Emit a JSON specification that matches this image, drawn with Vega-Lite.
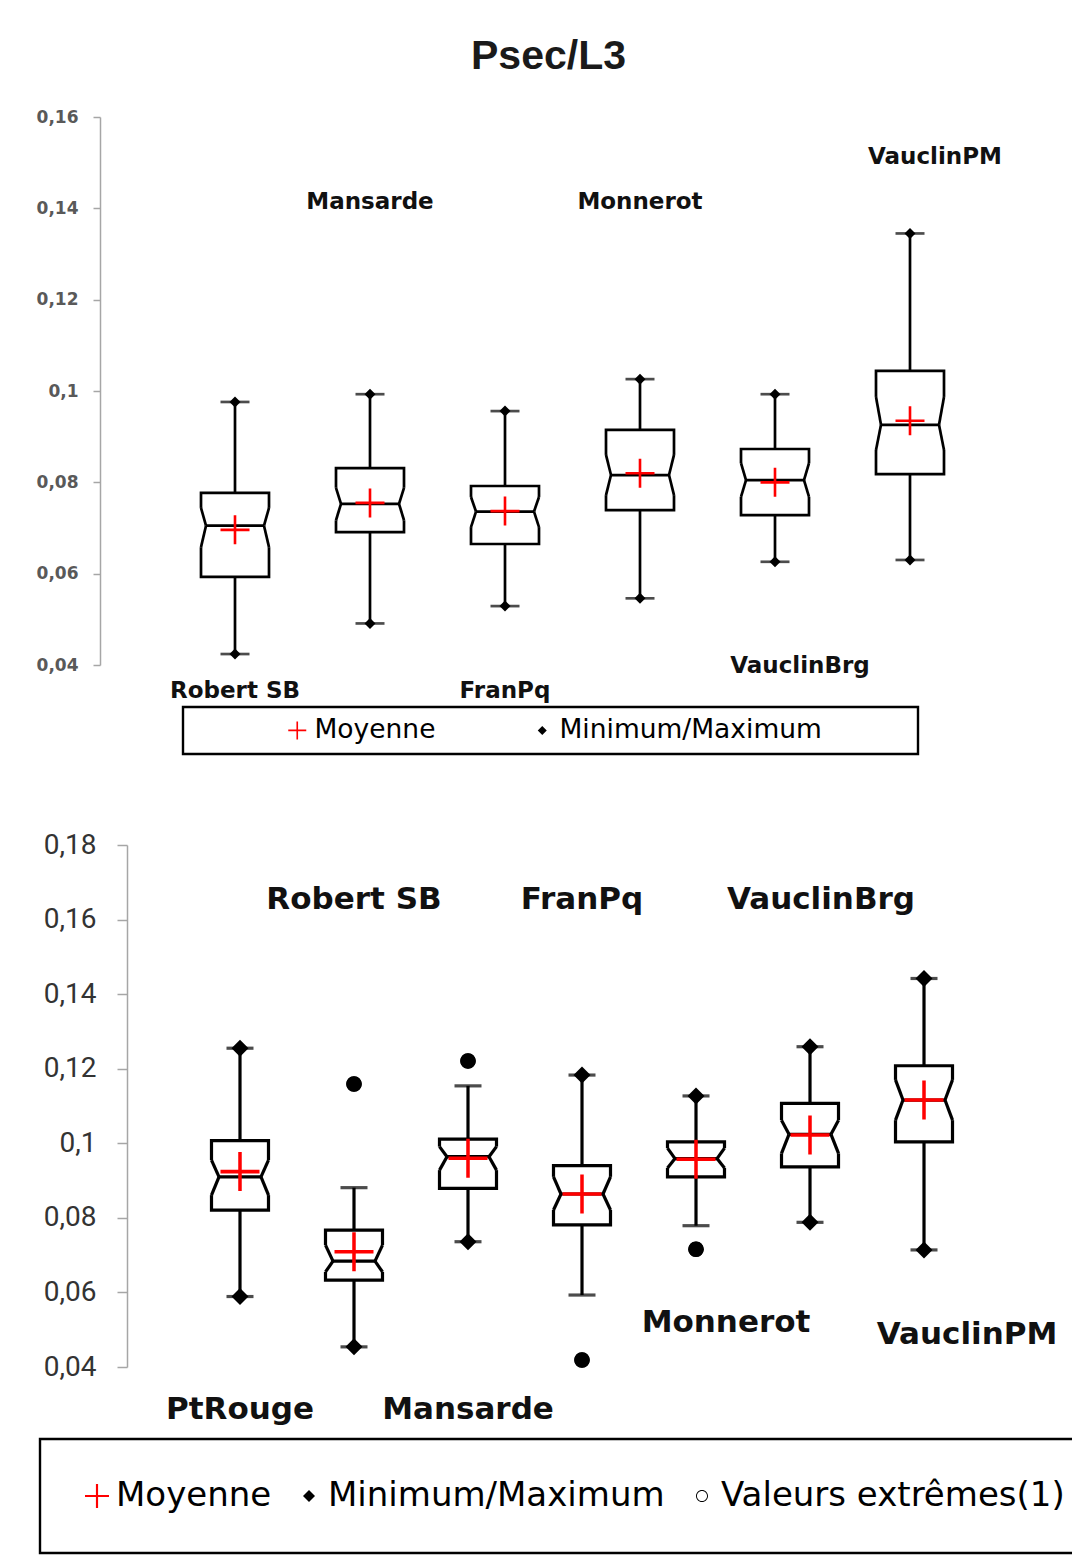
{
  "$schema": "https://vega.github.io/schema/vega-lite/v6.json",
  "background": "#ffffff",
  "padding": {"left": 36, "top": 36, "right": 5, "bottom": 5},
  "config": {"view": {"stroke": null}, "legend": {"strokeWidth": 2.4}},
  "spacing": 180,
  "bounds": "flush",
  "resolve": {"scale": {"x": "independent", "y": "independent", "color": "independent", "shape": "independent"}},
  "datasets": {
    "top_boxes": [
      {"group": "Robert SB", "lo": 0.0424, "q1": 0.0593, "nlo": 0.0658, "med": 0.0705, "nhi": 0.0744, "q3": 0.0777, "hi": 0.0976},
      {"group": "Mansarde", "lo": 0.0491, "q1": 0.0691, "nlo": 0.0717, "med": 0.0753, "nhi": 0.0788, "q3": 0.0831, "hi": 0.0993},
      {"group": "FranPq", "lo": 0.0529, "q1": 0.0665, "nlo": 0.0702, "med": 0.0736, "nhi": 0.0768, "q3": 0.0792, "hi": 0.0956},
      {"group": "Monnerot", "lo": 0.0546, "q1": 0.0739, "nlo": 0.0772, "med": 0.0816, "nhi": 0.086, "q3": 0.0915, "hi": 0.1026},
      {"group": "VauclinBrg", "lo": 0.0626, "q1": 0.0728, "nlo": 0.0768, "med": 0.0805, "nhi": 0.0842, "q3": 0.0873, "hi": 0.0993},
      {"group": "VauclinPM", "lo": 0.063, "q1": 0.0818, "nlo": 0.0871, "med": 0.0926, "nhi": 0.0987, "q3": 0.1044, "hi": 0.1345}
    ],
    "top_markers": [
      {"group": "Robert SB", "kind": "Moyenne", "value": 0.0696},
      {"group": "Mansarde", "kind": "Moyenne", "value": 0.0755},
      {"group": "FranPq", "kind": "Moyenne", "value": 0.0737},
      {"group": "Monnerot", "kind": "Moyenne", "value": 0.082},
      {"group": "VauclinBrg", "kind": "Moyenne", "value": 0.08},
      {"group": "VauclinPM", "kind": "Moyenne", "value": 0.0935},
      {"group": "Robert SB", "kind": "Minimum/Maximum", "value": 0.0424},
      {"group": "Robert SB", "kind": "Minimum/Maximum", "value": 0.0976},
      {"group": "Mansarde", "kind": "Minimum/Maximum", "value": 0.0491},
      {"group": "Mansarde", "kind": "Minimum/Maximum", "value": 0.0993},
      {"group": "FranPq", "kind": "Minimum/Maximum", "value": 0.0529},
      {"group": "FranPq", "kind": "Minimum/Maximum", "value": 0.0956},
      {"group": "Monnerot", "kind": "Minimum/Maximum", "value": 0.0546},
      {"group": "Monnerot", "kind": "Minimum/Maximum", "value": 0.1026},
      {"group": "VauclinBrg", "kind": "Minimum/Maximum", "value": 0.0626},
      {"group": "VauclinBrg", "kind": "Minimum/Maximum", "value": 0.0993},
      {"group": "VauclinPM", "kind": "Minimum/Maximum", "value": 0.063},
      {"group": "VauclinPM", "kind": "Minimum/Maximum", "value": 0.1345}
    ],
    "top_labels": [
      {"group": "Robert SB", "pos": 0.0343},
      {"group": "Mansarde", "pos": 0.1414},
      {"group": "FranPq", "pos": 0.0343},
      {"group": "Monnerot", "pos": 0.1414},
      {"group": "VauclinBrg", "pos": 0.0398},
      {"group": "VauclinPM", "pos": 0.1512}
    ],
    "bot_boxes": [
      {"group": "PtRouge", "lo": 0.0589, "q1": 0.0821, "nlo": 0.0861, "med": 0.091, "nhi": 0.0955, "q3": 0.1007, "hi": 0.1255},
      {"group": "Robert SB", "lo": 0.0454, "q1": 0.0633, "nlo": 0.0655, "med": 0.0684, "nhi": 0.0727, "q3": 0.0767, "hi": 0.0881},
      {"group": "Mansarde", "lo": 0.0736, "q1": 0.0879, "nlo": 0.0928, "med": 0.0964, "nhi": 0.0991, "q3": 0.1011, "hi": 0.1154},
      {"group": "FranPq", "lo": 0.0593, "q1": 0.0781, "nlo": 0.0821, "med": 0.0864, "nhi": 0.091, "q3": 0.094, "hi": 0.1183},
      {"group": "Monnerot", "lo": 0.0779, "q1": 0.091, "nlo": 0.0934, "med": 0.0959, "nhi": 0.0987, "q3": 0.1004, "hi": 0.1127},
      {"group": "VauclinBrg", "lo": 0.0788, "q1": 0.0937, "nlo": 0.0973, "med": 0.1024, "nhi": 0.1062, "q3": 0.1107, "hi": 0.1259},
      {"group": "VauclinPM", "lo": 0.0714, "q1": 0.1004, "nlo": 0.1062, "med": 0.1116, "nhi": 0.117, "q3": 0.1208, "hi": 0.1442}
    ],
    "bot_markers": [
      {"group": "PtRouge", "kind": "Moyenne", "value": 0.0924},
      {"group": "Robert SB", "kind": "Moyenne", "value": 0.0709},
      {"group": "Mansarde", "kind": "Moyenne", "value": 0.096},
      {"group": "FranPq", "kind": "Moyenne", "value": 0.0864},
      {"group": "Monnerot", "kind": "Moyenne", "value": 0.0957},
      {"group": "VauclinBrg", "kind": "Moyenne", "value": 0.1022},
      {"group": "VauclinPM", "kind": "Moyenne", "value": 0.1116},
      {"group": "PtRouge", "kind": "Minimum/Maximum", "value": 0.0589},
      {"group": "PtRouge", "kind": "Minimum/Maximum", "value": 0.1255},
      {"group": "Robert SB", "kind": "Minimum/Maximum", "value": 0.0454},
      {"group": "Mansarde", "kind": "Minimum/Maximum", "value": 0.0736},
      {"group": "FranPq", "kind": "Minimum/Maximum", "value": 0.1183},
      {"group": "Monnerot", "kind": "Minimum/Maximum", "value": 0.1127},
      {"group": "VauclinBrg", "kind": "Minimum/Maximum", "value": 0.0788},
      {"group": "VauclinBrg", "kind": "Minimum/Maximum", "value": 0.1259},
      {"group": "VauclinPM", "kind": "Minimum/Maximum", "value": 0.0714},
      {"group": "VauclinPM", "kind": "Minimum/Maximum", "value": 0.1442},
      {"group": "Robert SB", "kind": "Valeurs extrêmes(1)", "value": 0.1159},
      {"group": "Mansarde", "kind": "Valeurs extrêmes(1)", "value": 0.1221},
      {"group": "FranPq", "kind": "Valeurs extrêmes(1)", "value": 0.0419},
      {"group": "Monnerot", "kind": "Valeurs extrêmes(1)", "value": 0.0716}
    ],
    "bot_labels": [
      {"group": "PtRouge", "pos": 0.0286},
      {"group": "Robert SB", "pos": 0.1652},
      {"group": "Mansarde", "pos": 0.0286},
      {"group": "FranPq", "pos": 0.1652},
      {"group": "Monnerot", "pos": 0.0519},
      {"group": "VauclinBrg", "pos": 0.1652},
      {"group": "VauclinPM", "pos": 0.0486}
    ]
  },
  "vconcat": [
    {
      "title": {"text": "Psec/L3", "font": "Liberation Sans", "fontSize": 41, "fontWeight": "bold", "color": "#1a1a1a", "anchor": "middle", "frame": "group", "dx": -24, "offset": 30},
      "width": 945,
      "height": 548,
      "encoding": {
        "x": {"field": "group", "type": "nominal", "scale": {"type": "point", "padding": 1, "domain": ["Robert SB", "Mansarde", "FranPq", "Monnerot", "VauclinBrg", "VauclinPM"]}, "axis": null}
      },
      "layer": [
        {"data": {"name": "top_boxes"}, "mark": {"type": "rule", "color": "#000000", "strokeWidth": 2.7},
         "encoding": {"y": {"field": "lo", "type": "quantitative", "title": null, "scale": {"domain": [0.04, 0.16], "nice": false, "zero": false},
           "axis": {"values": [0.04, 0.06, 0.08, 0.1, 0.12, 0.14, 0.16], "labelExpr": "replace(format(datum.value, '~g'), '.', ',')", "labelFont": "DejaVu Sans", "labelFontSize": 17, "labelFontWeight": "bold", "labelColor": "#595959", "domainColor": "#a6a6a6", "domainWidth": 1.5, "tickColor": "#a6a6a6", "tickWidth": 1.5, "tickSize": 7, "labelPadding": 15, "grid": false, "title": null,
             "encode": {"ticks": {"update": {"x": {"value": 7}}}}}},
           "y2": {"field": "hi"}}},
        {"data": {"name": "top_boxes"}, "mark": {"type": "tick", "color": "#000000", "size": 29, "thickness": 2.7},
         "encoding": {"y": {"field": "lo", "type": "quantitative", "title": null, "scale": {"domain": [0.04, 0.16], "nice": false, "zero": false}}}},
        {"data": {"name": "top_boxes"}, "mark": {"type": "tick", "color": "#000000", "size": 29, "thickness": 2.7},
         "encoding": {"y": {"field": "hi", "type": "quantitative", "title": null, "scale": {"domain": [0.04, 0.16], "nice": false, "zero": false}}}},
        {"data": {"name": "top_boxes"}, "mark": {"type": "bar", "width": 68, "fill": "#ffffff", "stroke": "#000000", "strokeWidth": 2.7},
         "encoding": {"y": {"field": "q1", "type": "quantitative", "title": null, "scale": {"domain": [0.04, 0.16], "nice": false, "zero": false}}, "y2": {"field": "q3"}}},
        {"data": {"name": "top_boxes"}, "mark": {"type": "rule", "color": "#ffffff", "strokeWidth": 12, "xOffset": -30},
         "encoding": {"y": {"field": "nlo", "type": "quantitative", "title": null, "scale": {"domain": [0.04, 0.16], "nice": false, "zero": false}}, "y2": {"field": "nhi"}}},
        {"data": {"name": "top_boxes"}, "mark": {"type": "rule", "color": "#ffffff", "strokeWidth": 12, "xOffset": 30},
         "encoding": {"y": {"field": "nlo", "type": "quantitative", "title": null, "scale": {"domain": [0.04, 0.16], "nice": false, "zero": false}}, "y2": {"field": "nhi"}}},
        {"data": {"name": "top_boxes"}, "mark": {"type": "rule", "color": "#000000", "strokeWidth": 2.7, "xOffset": -34, "x2Offset": -29},
         "encoding": {"x2": {"field": "group"}, "y": {"field": "nhi", "type": "quantitative", "title": null, "scale": {"domain": [0.04, 0.16], "nice": false, "zero": false}}, "y2": {"field": "med"}}},
        {"data": {"name": "top_boxes"}, "mark": {"type": "rule", "color": "#000000", "strokeWidth": 2.7, "xOffset": -34, "x2Offset": -29},
         "encoding": {"x2": {"field": "group"}, "y": {"field": "nlo", "type": "quantitative", "title": null, "scale": {"domain": [0.04, 0.16], "nice": false, "zero": false}}, "y2": {"field": "med"}}},
        {"data": {"name": "top_boxes"}, "mark": {"type": "rule", "color": "#000000", "strokeWidth": 2.7, "xOffset": 34, "x2Offset": 29},
         "encoding": {"x2": {"field": "group"}, "y": {"field": "nhi", "type": "quantitative", "title": null, "scale": {"domain": [0.04, 0.16], "nice": false, "zero": false}}, "y2": {"field": "med"}}},
        {"data": {"name": "top_boxes"}, "mark": {"type": "rule", "color": "#000000", "strokeWidth": 2.7, "xOffset": 34, "x2Offset": 29},
         "encoding": {"x2": {"field": "group"}, "y": {"field": "nlo", "type": "quantitative", "title": null, "scale": {"domain": [0.04, 0.16], "nice": false, "zero": false}}, "y2": {"field": "med"}}},
        {"data": {"name": "top_boxes"}, "mark": {"type": "rule", "color": "#000000", "strokeWidth": 2.7, "xOffset": -29, "x2Offset": 29},
         "encoding": {"x2": {"field": "group"}, "y": {"field": "med", "type": "quantitative", "title": null, "scale": {"domain": [0.04, 0.16], "nice": false, "zero": false}}, "y2": {"field": "med"}}},
        {"data": {"name": "top_markers"}, "transform": [{"filter": "datum.kind === 'Moyenne'"}],
         "mark": {"type": "point", "filled": true, "opacity": 1, "size": 841, "strokeWidth": 0},
         "encoding": {
           "y": {"field": "value", "type": "quantitative", "title": null, "scale": {"domain": [0.04, 0.16], "nice": false, "zero": false}},
           "color": {"field": "kind", "type": "nominal", "scale": {"domain": ["Moyenne", "Minimum/Maximum"], "range": ["#ff0000", "#000000"]},
             "legend": {"title": " ", "titleOrient": "right", "titlePadding": 86, "titleFontSize": 2, "orient": "none", "legendX": 83, "legendY": 590, "direction": "horizontal", "padding": 10, "strokeColor": "#000000", "labelFont": "DejaVu Sans", "labelFontSize": 26.5, "labelColor": "#000000", "labelLimit": 1000, "symbolSize": 324, "symbolStrokeWidth": 0, "symbolOffset": 91, "labelOffset": 4, "columnPadding": 2}},
           "shape": {"field": "kind", "type": "nominal", "scale": {"domain": ["Moyenne", "Minimum/Maximum"], "range": ["M-1,-0.09H-0.09V-1H0.09V-0.09H1V0.09H0.09V1H-0.09V0.09H-1Z", "M-0.5,0L0,-0.5L0.5,0L0,0.5Z"]},
             "legend": {"title": " ", "titleOrient": "right", "titlePadding": 86, "titleFontSize": 2, "orient": "none", "legendX": 83, "legendY": 590, "direction": "horizontal", "padding": 10, "strokeColor": "#000000", "labelFont": "DejaVu Sans", "labelFontSize": 26.5, "labelColor": "#000000", "labelLimit": 1000, "symbolSize": 324, "symbolStrokeWidth": 0, "symbolOffset": 91, "labelOffset": 4, "columnPadding": 2}}
         }},
        {"data": {"name": "top_markers"}, "transform": [{"filter": "datum.kind === 'Minimum/Maximum'"}],
         "mark": {"type": "point", "filled": true, "opacity": 1, "size": 484, "strokeWidth": 0},
         "encoding": {
           "y": {"field": "value", "type": "quantitative", "title": null, "scale": {"domain": [0.04, 0.16], "nice": false, "zero": false}},
           "color": {"field": "kind", "type": "nominal"},
           "shape": {"field": "kind", "type": "nominal"}
         }},
        {"data": {"name": "top_labels"}, "transform": [{"filter": "datum.group !== 'VauclinBrg' && datum.group !== 'VauclinPM'"}],
         "mark": {"type": "text", "font": "DejaVu Sans", "fontWeight": "bold", "fontSize": 23, "color": "#111111", "align": "center", "baseline": "middle"},
         "encoding": {"y": {"field": "pos", "type": "quantitative", "title": null, "scale": {"domain": [0.04, 0.16], "nice": false, "zero": false}}, "text": {"field": "group"}}},
        {"data": {"name": "top_labels"}, "transform": [{"filter": "datum.group === 'VauclinBrg' || datum.group === 'VauclinPM'"}],
         "mark": {"type": "text", "font": "DejaVu Sans", "fontWeight": "bold", "fontSize": 23, "color": "#111111", "align": "center", "baseline": "middle", "dx": 25},
         "encoding": {"y": {"field": "pos", "type": "quantitative", "title": null, "scale": {"domain": [0.04, 0.16], "nice": false, "zero": false}}, "text": {"field": "group"}}}
      ]
    },
    {
      "width": 964,
      "height": 522,
      "encoding": {
        "x": {"field": "group", "type": "nominal", "scale": {"type": "band", "paddingInner": 0, "paddingOuter": 0.728, "domain": ["PtRouge", "Robert SB", "Mansarde", "FranPq", "Monnerot", "VauclinBrg", "VauclinPM"]}, "axis": null}
      },
      "layer": [
        {"data": {"name": "bot_boxes"}, "mark": {"type": "rule", "color": "#000000", "strokeWidth": 3.2},
         "encoding": {"y": {"field": "lo", "type": "quantitative", "title": null, "scale": {"domain": [0.04, 0.18], "nice": false, "zero": false},
           "axis": {"values": [0.04, 0.06, 0.08, 0.1, 0.12, 0.14, 0.16, 0.18], "labelExpr": "replace(format(datum.value, '~g'), '.', ',')", "labelFont": "Roboto", "labelFontSize": 28, "labelColor": "#333333", "domainColor": "#a6a6a6", "domainWidth": 1.5, "tickColor": "#a6a6a6", "tickWidth": 1.5, "tickSize": 10, "labelPadding": 21, "offset": -27, "grid": false, "title": null,
             "encode": {"ticks": {"update": {"x": {"value": 11}}}}}},
           "y2": {"field": "hi"}}},
        {"data": {"name": "bot_boxes"}, "mark": {"type": "tick", "color": "#000000", "size": 27, "thickness": 3.2},
         "encoding": {"y": {"field": "lo", "type": "quantitative", "title": null, "scale": {"domain": [0.04, 0.18], "nice": false, "zero": false}}}},
        {"data": {"name": "bot_boxes"}, "mark": {"type": "tick", "color": "#000000", "size": 27, "thickness": 3.2},
         "encoding": {"y": {"field": "hi", "type": "quantitative", "title": null, "scale": {"domain": [0.04, 0.18], "nice": false, "zero": false}}}},
        {"data": {"name": "bot_boxes"}, "mark": {"type": "bar", "width": 57, "fill": "#ffffff", "stroke": "#000000", "strokeWidth": 3.2},
         "encoding": {"y": {"field": "q1", "type": "quantitative", "title": null, "scale": {"domain": [0.04, 0.18], "nice": false, "zero": false}}, "y2": {"field": "q3"}}},
        {"data": {"name": "bot_boxes"}, "mark": {"type": "rule", "color": "#ffffff", "strokeWidth": 12, "xOffset": -25},
         "encoding": {"y": {"field": "nlo", "type": "quantitative", "title": null, "scale": {"domain": [0.04, 0.18], "nice": false, "zero": false}}, "y2": {"field": "nhi"}}},
        {"data": {"name": "bot_boxes"}, "mark": {"type": "rule", "color": "#ffffff", "strokeWidth": 12, "xOffset": 25},
         "encoding": {"y": {"field": "nlo", "type": "quantitative", "title": null, "scale": {"domain": [0.04, 0.18], "nice": false, "zero": false}}, "y2": {"field": "nhi"}}},
        {"data": {"name": "bot_boxes"}, "mark": {"type": "rule", "color": "#000000", "strokeWidth": 3.2, "xOffset": -28.5, "x2Offset": -21},
         "encoding": {"x2": {"field": "group"}, "y": {"field": "nhi", "type": "quantitative", "title": null, "scale": {"domain": [0.04, 0.18], "nice": false, "zero": false}}, "y2": {"field": "med"}}},
        {"data": {"name": "bot_boxes"}, "mark": {"type": "rule", "color": "#000000", "strokeWidth": 3.2, "xOffset": -28.5, "x2Offset": -21},
         "encoding": {"x2": {"field": "group"}, "y": {"field": "nlo", "type": "quantitative", "title": null, "scale": {"domain": [0.04, 0.18], "nice": false, "zero": false}}, "y2": {"field": "med"}}},
        {"data": {"name": "bot_boxes"}, "mark": {"type": "rule", "color": "#000000", "strokeWidth": 3.2, "xOffset": 28.5, "x2Offset": 21},
         "encoding": {"x2": {"field": "group"}, "y": {"field": "nhi", "type": "quantitative", "title": null, "scale": {"domain": [0.04, 0.18], "nice": false, "zero": false}}, "y2": {"field": "med"}}},
        {"data": {"name": "bot_boxes"}, "mark": {"type": "rule", "color": "#000000", "strokeWidth": 3.2, "xOffset": 28.5, "x2Offset": 21},
         "encoding": {"x2": {"field": "group"}, "y": {"field": "nlo", "type": "quantitative", "title": null, "scale": {"domain": [0.04, 0.18], "nice": false, "zero": false}}, "y2": {"field": "med"}}},
        {"data": {"name": "bot_boxes"}, "mark": {"type": "rule", "color": "#000000", "strokeWidth": 3.2, "xOffset": -21, "x2Offset": 21},
         "encoding": {"x2": {"field": "group"}, "y": {"field": "med", "type": "quantitative", "title": null, "scale": {"domain": [0.04, 0.18], "nice": false, "zero": false}}, "y2": {"field": "med"}}},
        {"data": {"name": "bot_markers"}, "transform": [{"filter": "datum.kind === 'Valeurs extrêmes(1)'"}],
         "mark": {"type": "point", "shape": "circle", "filled": true, "color": "#000000", "opacity": 1, "size": 240, "strokeWidth": 0},
         "encoding": {
           "y": {"field": "value", "type": "quantitative", "title": null, "scale": {"domain": [0.04, 0.18], "nice": false, "zero": false}}
         }},
        {"data": {"name": "bot_markers"}, "transform": [{"filter": "datum.kind === 'Moyenne'"}],
         "mark": {"type": "point", "filled": true, "opacity": 1, "size": 1521, "strokeWidth": 0},
         "encoding": {
           "y": {"field": "value", "type": "quantitative", "title": null, "scale": {"domain": [0.04, 0.18], "nice": false, "zero": false}},
           "color": {"field": "kind", "type": "nominal", "scale": {"domain": ["Moyenne", "Minimum/Maximum", "Valeurs extrêmes(1)"], "range": ["#ff0000", "#000000", "#000000"]},
             "legend": {"title": null, "orient": "none", "legendX": -60, "legendY": 594, "direction": "horizontal", "padding": 40, "strokeColor": "#000000", "labelFont": "DejaVu Sans", "labelFontSize": 34, "labelColor": "#000000", "labelLimit": 1000, "symbolSize": 576, "symbolStrokeWidth": 0, "labelOffset": 2, "columnPadding": 20}},
           "shape": {"field": "kind", "type": "nominal", "scale": {"domain": ["Moyenne", "Minimum/Maximum", "Valeurs extrêmes(1)"], "range": ["M-1,-0.09H-0.09V-1H0.09V-0.09H1V0.09H0.09V1H-0.09V0.09H-1Z", "M-0.5,0L0,-0.5L0.5,0L0,0.5Z", "M0.5,0A0.5,0.5 0 1,0 -0.5,0A0.5,0.5 0 1,0 0.5,0Z M0.42,0A0.42,0.42 0 1,1 -0.42,0A0.42,0.42 0 1,1 0.42,0Z"]},
             "legend": {"title": null, "orient": "none", "legendX": -60, "legendY": 594, "direction": "horizontal", "padding": 40, "strokeColor": "#000000", "labelFont": "DejaVu Sans", "labelFontSize": 34, "labelColor": "#000000", "labelLimit": 1000, "symbolSize": 576, "symbolStrokeWidth": 0, "labelOffset": 2, "columnPadding": 20}}
         }},
        {"data": {"name": "bot_markers"}, "transform": [{"filter": "datum.kind === 'Minimum/Maximum'"}],
         "mark": {"type": "point", "filled": true, "opacity": 1, "size": 1156, "strokeWidth": 0},
         "encoding": {
           "y": {"field": "value", "type": "quantitative", "title": null, "scale": {"domain": [0.04, 0.18], "nice": false, "zero": false}},
           "color": {"field": "kind", "type": "nominal"},
           "shape": {"field": "kind", "type": "nominal"}
         }},
        {"data": {"name": "bot_markers"}, "transform": [{"filter": "datum.kind === 'Valeurs extrêmes(1)'"}],
         "mark": {"type": "point", "filled": true, "opacity": 1, "size": 961, "strokeWidth": 0},
         "encoding": {
           "y": {"field": "value", "type": "quantitative", "title": null, "scale": {"domain": [0.04, 0.18], "nice": false, "zero": false}},
           "color": {"field": "kind", "type": "nominal"},
           "shape": {"field": "kind", "type": "nominal"}
         }},
        {"data": {"name": "bot_labels"}, "transform": [{"filter": "indexof(['PtRouge','Robert SB','Mansarde','FranPq'], datum.group) >= 0"}],
         "mark": {"type": "text", "font": "DejaVu Sans", "fontWeight": "bold", "fontSize": 31, "color": "#111111", "align": "center", "baseline": "middle"},
         "encoding": {"y": {"field": "pos", "type": "quantitative", "title": null, "scale": {"domain": [0.04, 0.18], "nice": false, "zero": false}}, "text": {"field": "group"}}},
        {"data": {"name": "bot_labels"}, "transform": [{"filter": "datum.group === 'VauclinBrg'"}],
         "mark": {"type": "text", "font": "DejaVu Sans", "fontWeight": "bold", "fontSize": 31, "color": "#111111", "align": "center", "baseline": "middle", "dx": 11},
         "encoding": {"y": {"field": "pos", "type": "quantitative", "title": null, "scale": {"domain": [0.04, 0.18], "nice": false, "zero": false}}, "text": {"field": "group"}}},
        {"data": {"name": "bot_labels"}, "transform": [{"filter": "datum.group === 'Monnerot'"}],
         "mark": {"type": "text", "font": "DejaVu Sans", "fontWeight": "bold", "fontSize": 31, "color": "#111111", "align": "center", "baseline": "middle", "dx": 30},
         "encoding": {"y": {"field": "pos", "type": "quantitative", "title": null, "scale": {"domain": [0.04, 0.18], "nice": false, "zero": false}}, "text": {"field": "group"}}},
        {"data": {"name": "bot_labels"}, "transform": [{"filter": "datum.group === 'VauclinPM'"}],
         "mark": {"type": "text", "font": "DejaVu Sans", "fontWeight": "bold", "fontSize": 31, "color": "#111111", "align": "center", "baseline": "middle", "dx": 43},
         "encoding": {"y": {"field": "pos", "type": "quantitative", "title": null, "scale": {"domain": [0.04, 0.18], "nice": false, "zero": false}}, "text": {"field": "group"}}}
      ]
    }
  ]
}
